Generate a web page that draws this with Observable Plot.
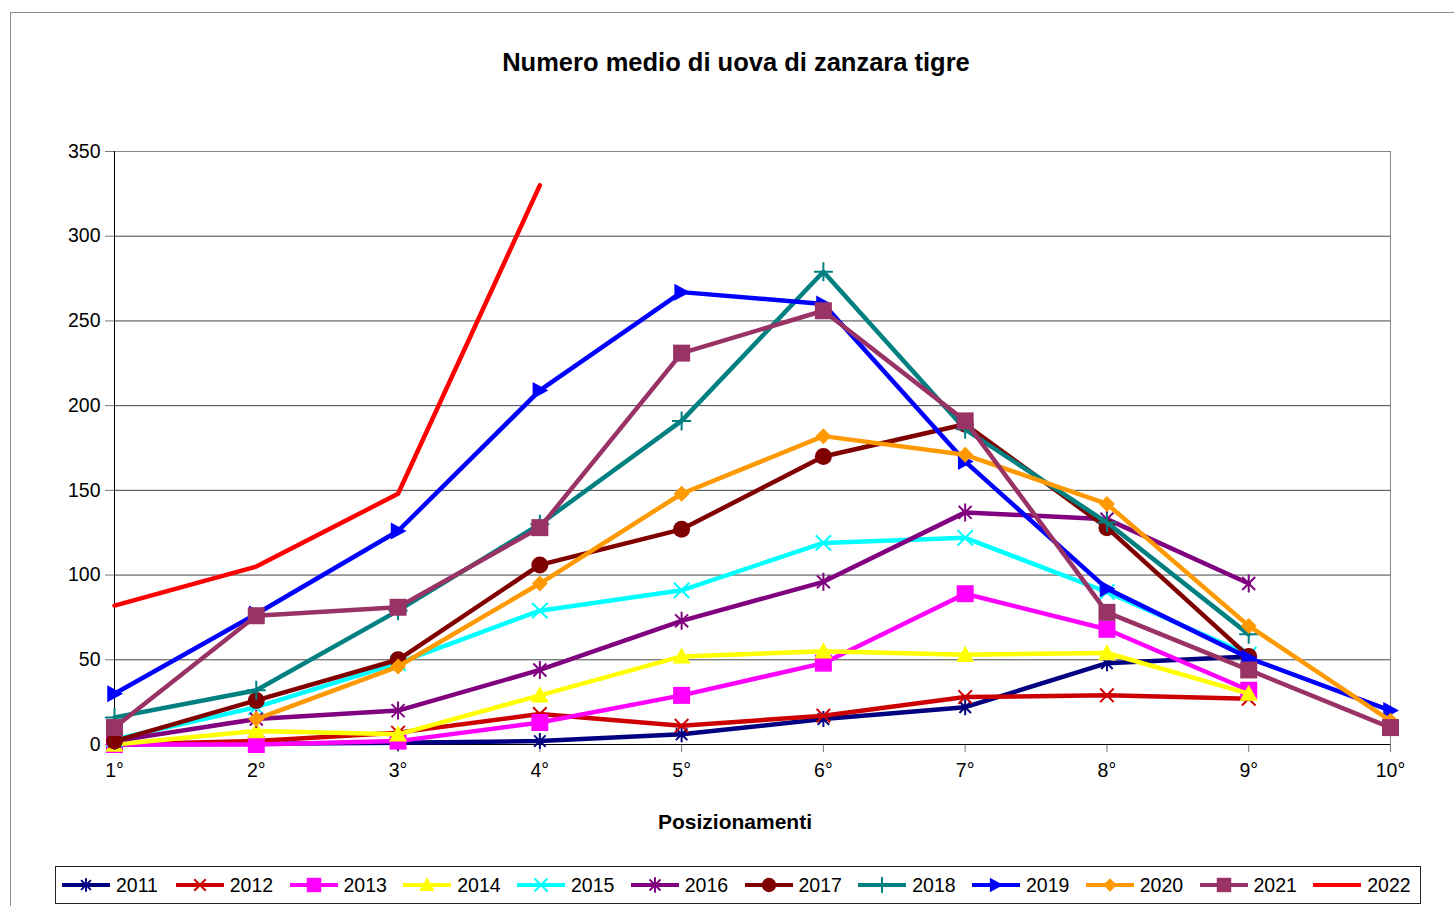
<!DOCTYPE html>
<html>
<head>
<meta charset="utf-8">
<script src="https://cdn.jsdelivr.net/npm/d3@7"></script>
<script src="https://cdn.jsdelivr.net/npm/@observablehq/plot@0.6"></script>
<style>
  html, body { margin: 0; padding: 0; background: #fff; }
  body { width: 1454px; height: 906px; position: relative; overflow: hidden; font-family: "Liberation Sans", Arial, sans-serif; color: #000; }
  #outer { position: absolute; left: 10px; top: 12px; width: 1500px; height: 1000px; border: 1px solid #8c8c8c; z-index: 5; pointer-events: none; background: transparent; }
  #title { position: absolute; left: 0; width: 1472px; top: 49px; line-height: 26px; text-align: center; font-weight: bold; font-size: 25.5px; }
  #chart { position: absolute; left: 0; top: 100px; }
  #xlabel { position: absolute; left: 0; width: 1470px; top: 811px; line-height: 22px; text-align: center; font-weight: bold; font-size: 21px; }
  #legend { position: absolute; left: 55px; top: 866px; width: 1364px; height: 36px; border: 1px solid #222; background: #fff; }
  .item { position: absolute; top: 0; height: 36px; }
  .item svg { position: absolute; left: 0; top: 0; }
  .item span { position: absolute; left: 55px; top: 0; line-height: 36px; font-size: 19.5px; white-space: nowrap; }
</style>
</head>
<body>
<div id="outer"></div>
<div id="title">Numero medio di uova di zanzara tigre</div>
<div id="chart"></div>
<div id="xlabel">Posizionamenti</div>
<div id="legend"></div>
<script>
// ---- data ----
const categories = ["1°", "2°", "3°", "4°", "5°", "6°", "7°", "8°", "9°", "10°"];
const years = ["2011", "2012", "2013", "2014", "2015", "2016", "2017", "2018", "2019", "2020", "2021", "2022"];
const yTicks = [0, 50, 100, 150, 200, 250, 300, 350];

const v2011 = [0, 0.5, 1, 2, 6, 15, 22, 48, 52, null];
const v2012 = [0, 2, 7, 18, 11, 17, 28, 29, 27, null];
const v2013 = [0, 0, 2, 13, 29, 48, 89, 68, 32, null];
const v2014 = [0, 8, 6, 29, 52, 55, 53, 54, 30, null];
const v2015 = [3, 22, 48, 79, 91, 119, 122, 90, 53, null];
const v2016 = [2, 15, 20, 44, 73, 96, 137, 133, 95, null];
const v2017 = [2, 26, 50, 106, 127, 170, 189, 128, 52, null];
const v2018 = [16, 32, 79, 130, 191, 279, 186, 131, 65, null];
const v2019 = [30, 77, 126, 209, 267, 260, 167, 92, 51, 20];
const v2020 = [null, 15, 46, 95, 148, 182, 171, 142, 70, 14];
const v2021 = [10, 76, 81, 128, 231, 256, 191, 78, 44, 10];
const v2022 = [82, 105, 148, 330, null, null, null, null, null, null];

const seriesValues = [v2011, v2012, v2013, v2014, v2015, v2016, v2017, v2018, v2019, v2020, v2021, v2022];
const colors = ["#000080", "#cc0000", "#ff00ff", "#ffff00", "#00ffff", "#800080", "#800000", "#008080", "#0000ff", "#ff9900", "#993366", "#ff0000"];
const markers = ["star", "times", "square", "triangle", "times", "star", "circle", "plus", "triRight", "diamond", "square", null];
const markerR = [8, 8, 8.5, 9, 9, 9, 8.5, 9.5, 8.5, 8, 8.5, 0];

// ---- symbols (size = PI * R^2) ----
const Rof = size => Math.sqrt(size / Math.PI);
const symbols = {
  star: { draw(c, size) { const r = Rof(size), d = r * 0.72; c.moveTo(0, -r); c.lineTo(0, r); c.moveTo(-d, -d); c.lineTo(d, d); c.moveTo(-d, d); c.lineTo(d, -d); } },
  times: { draw(c, size) { const r = Rof(size) * 0.85; c.moveTo(-r, -r); c.lineTo(r, r); c.moveTo(-r, r); c.lineTo(r, -r); } },
  plus: { draw(c, size) { const r = Rof(size); c.moveTo(-r, 0); c.lineTo(r, 0); c.moveTo(0, -r); c.lineTo(0, r); } },
  square: { draw(c, size) { const r = Rof(size); c.rect(-r, -r, 2 * r, 2 * r); } },
  circle: { draw(c, size) { const r = Rof(size); c.moveTo(r, 0); c.arc(0, 0, r, 0, 2 * Math.PI); } },
  triangle: { draw(c, size) { const r = Rof(size); c.moveTo(0, -r); c.lineTo(r, r * 0.8); c.lineTo(-r, r * 0.8); c.closePath(); } },
  triRight: { draw(c, size) { const r = Rof(size); c.moveTo(r, 0); c.lineTo(-r * 0.85, -r); c.lineTo(-r * 0.85, r); c.closePath(); } },
  diamond: { draw(c, size) { const r = Rof(size); c.moveTo(0, -r); c.lineTo(r, 0); c.lineTo(0, r); c.lineTo(-r, 0); c.closePath(); } }
};
const strokeOnly = new Set(["star", "times", "plus"]);

// ---- marks ----
const seriesMarks = [];
years.forEach((yr, i) => {
  const rows = categories.map((c, j) => ({ cat: c, v: seriesValues[i][j] })).filter(d => d.v != null);
  seriesMarks.push(Plot.line(rows, { x: "cat", y: "v", stroke: colors[i], strokeWidth: 4.5, strokeLinejoin: "miter" }));
  const m = markers[i];
  if (m) {
    const so = strokeOnly.has(m);
    seriesMarks.push(Plot.dot(rows, {
      x: "cat", y: "v", symbol: symbols[m], r: markerR[i],
      fill: so ? "none" : colors[i],
      stroke: so ? colors[i] : "none",
      strokeWidth: so ? 2 : 0
    }));
  }
});

const chart = Plot.plot({
  width: 1454,
  height: 750,
  marginTop: 51,
  marginBottom: 106,
  marginLeft: 114,
  marginRight: 64,
  style: { fontFamily: "'Liberation Sans', Arial, sans-serif", fontSize: "19.5px", color: "#000", background: "#fff", overflow: "visible" },
  x: { type: "point", domain: categories, padding: 0, round: false },
  y: { domain: [0, 350] },
  marks: [
    Plot.gridY(yTicks, { stroke: "#444", strokeOpacity: 1, strokeWidth: 1 }),
    Plot.frame({ stroke: "#888" }),
    Plot.axisY({ ticks: yTicks, tickSize: 9, tickPadding: 5, label: null, fontSize: 19.5, stroke: "#777" }),
    Plot.axisX({ tickSize: 8, tickPadding: 11, label: null, fontSize: 19.5, stroke: "#777" }),
    Plot.ruleY([0], { stroke: "#000", strokeWidth: 1 }),
    Plot.ruleX([categories[0]], { stroke: "#000", strokeWidth: 1 }),
    ...seriesMarks
  ]
});
document.getElementById("chart").appendChild(chart);

// ---- legend ----
const legend = d3.select("#legend");
years.forEach((yr, i) => {
  const item = legend.append("div").attr("class", "item").style("left", (5 + i * 113.75) + "px");
  const svg = item.append("svg").attr("width", 52).attr("height", 36);
  svg.append("line").attr("x1", 1).attr("x2", 49).attr("y1", 18).attr("y2", 18)
    .attr("stroke", colors[i]).attr("stroke-width", 4);
  const m = markers[i];
  if (m) {
    const so = strokeOnly.has(m);
    const R = markerR[i] * 0.85;
    const p = d3.symbol(symbols[m], Math.PI * R * R)();
    svg.append("path").attr("d", p).attr("transform", "translate(25,18)")
      .attr("fill", so ? "none" : colors[i])
      .attr("stroke", so ? colors[i] : "none")
      .attr("stroke-width", so ? 2 : 0);
  }
  item.append("span").text(yr);
});
</script>
</body>
</html>
